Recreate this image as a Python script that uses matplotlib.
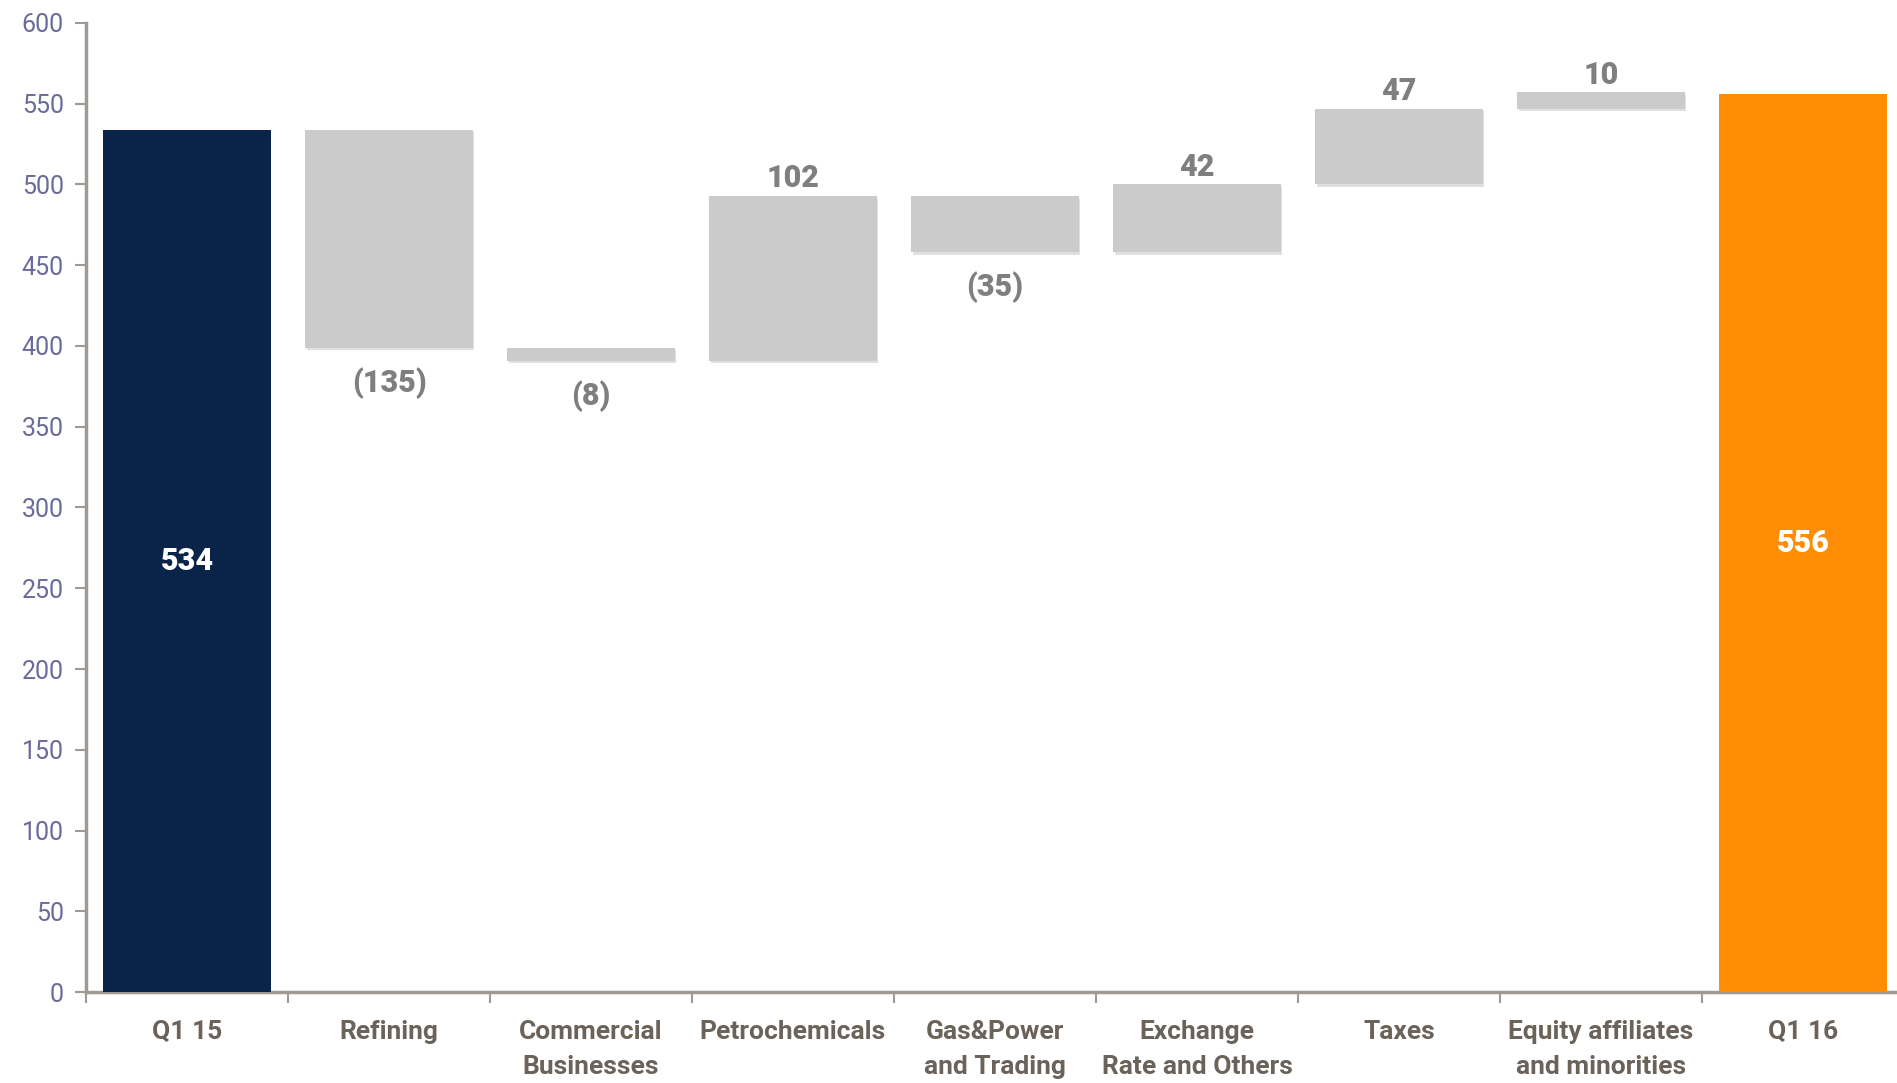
import numpy as np
import matplotlib.pyplot as plt
import matplotlib.patheffects as pe

categories = ['Q1 15', 'Refining', 'Commercial\nBusinesses', 'Petrochemicals',
              'Gas&Power\nand Trading', 'Exchange\nRate and Others', 'Taxes',
              'Equity affiliates\nand minorities', 'Q1 16']
start_value = 534
deltas = [-135, -8, 102, -35, 42, 47, 10]
end_value = 556

plt.rcParams['font.family'] = ['Roboto', 'DejaVu Sans']

fig = plt.figure(figsize=(18.97, 10.83), dpi=100)
ax = fig.add_axes([0.0453, 0.084, 0.9584, 0.8948])

x = np.arange(len(categories))
w = 0.83

# totals
ax.bar(x[0], start_value, width=w, color='#0a2349', zorder=3)
ax.bar(x[-1], end_value, width=w, color='#ff8c05', zorder=3)
ax.text(x[0], start_value / 2, str(start_value), ha='center', va='center',
        color='white', fontsize=22, fontweight='black', zorder=4)
ax.text(x[-1], end_value / 2, str(end_value), ha='center', va='center',
        color='white', fontsize=22, fontweight='black', zorder=4)

# floating deltas
level = start_value
shadow = [pe.SimplePatchShadow(offset=(1, -2), shadow_rgbFace='#999999', alpha=0.3), pe.Normal()]
for i, d in enumerate(deltas, start=1):
    bottom = level + min(d, 0)
    b = ax.bar(x[i], abs(d), bottom=bottom, width=w, color='#cbcbcb', zorder=3)
    for p in b:
        p.set_path_effects(shadow)
    if d < 0:
        ax.annotate('(%d)' % abs(d), (x[i], bottom), xytext=(0, -14), textcoords='offset points',
                    ha='center', va='top', color='#7f7f7f', fontsize=22, fontweight='black')
    else:
        ax.annotate(str(d), (x[i], bottom + d), xytext=(0, 2), textcoords='offset points',
                    ha='center', va='bottom', color='#7f7f7f', fontsize=22, fontweight='black')
    level += d

ax.set_xlim(-0.5, len(categories) - 0.5)
ax.set_ylim(0, 600)
ax.set_yticks(range(0, 601, 50))
ax.tick_params(axis='y', colors='#a09a95', labelcolor='#6b6b9b', labelsize=18,
               length=8, width=1.5, pad=8)

ax.set_xticks(x)
ax.set_xticklabels(categories, fontsize=19, fontweight='bold', color='#6b625a', linespacing=1.6)
ax.tick_params(axis='x', length=0, pad=20)
ax.set_xticks(np.arange(-0.5, len(categories) - 0.4, 1), minor=True)
ax.tick_params(axis='x', which='minor', length=8, width=1.5, colors='#a09a95')
for lbl in ax.get_xticklabels():
    lbl.set_verticalalignment('top')

for s in ['top', 'right']:
    ax.spines[s].set_visible(False)
for s in ['left', 'bottom']:
    ax.spines[s].set_color('#a09a95')
    ax.spines[s].set_linewidth(2.5)

fig.savefig('out.png', dpi=100)
